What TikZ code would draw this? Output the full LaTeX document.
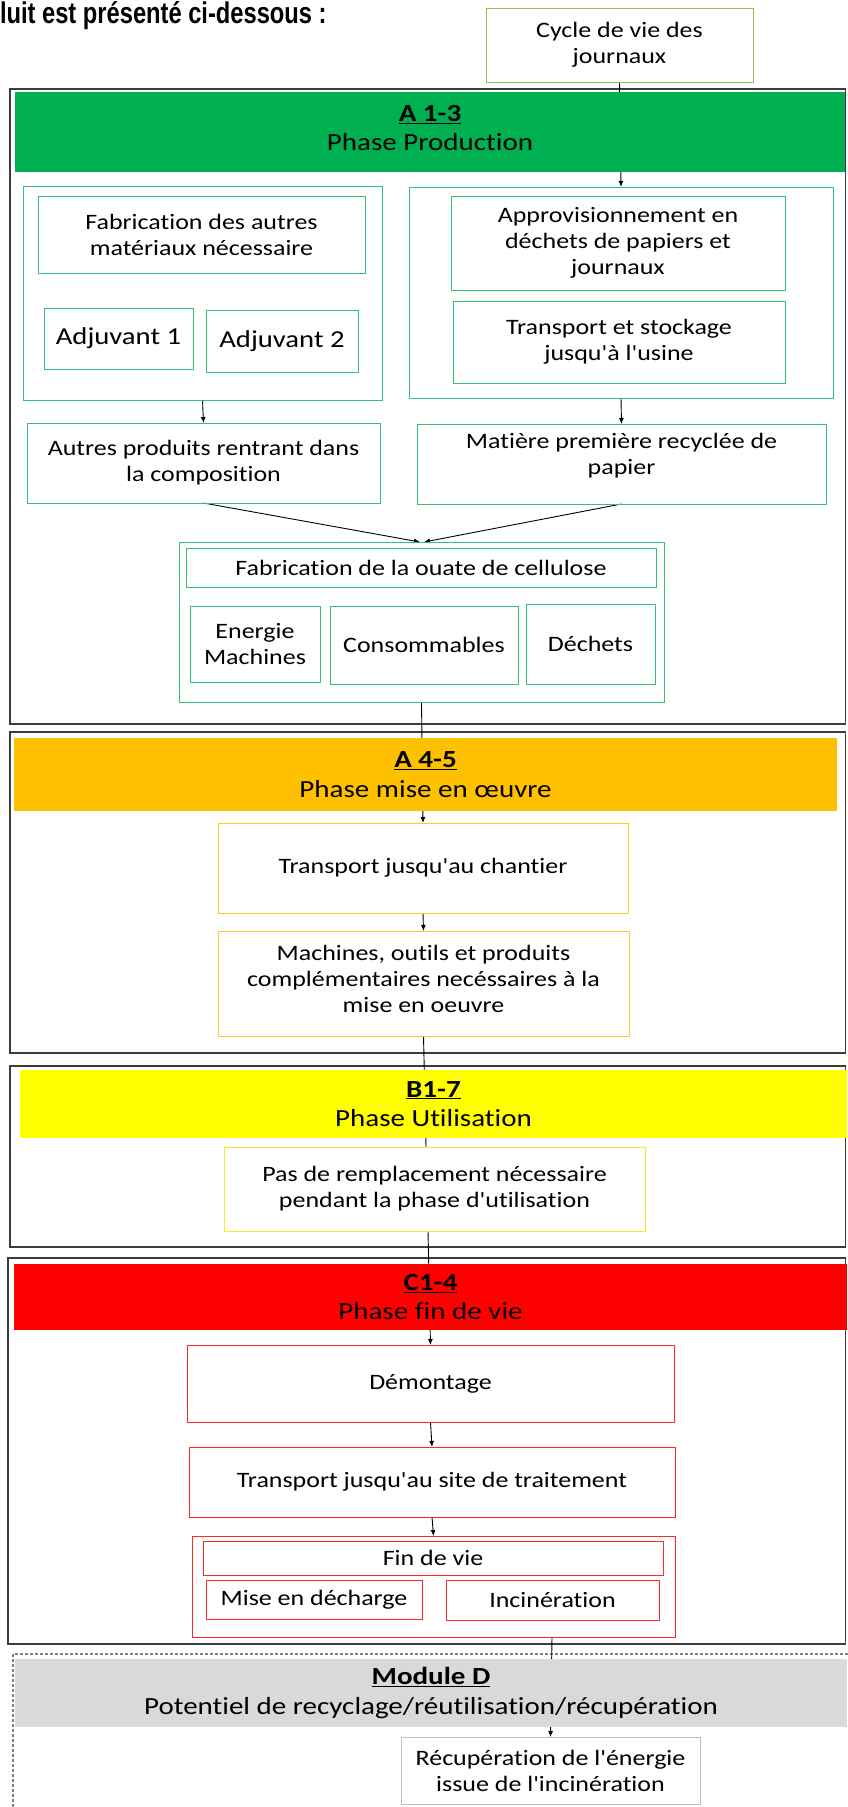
\documentclass[tikz,border=0pt]{standalone}
\usepackage{fontspec}
\setmainfont{Carlito}[FakeStretch=1.18, Ligatures={TeXOff,CommonOff}]
\newfontfamily\titlefont{Liberation Sans}[FakeStretch=0.79]
\usetikzlibrary{arrows.meta}
\pgfdeclarelayer{bg}
\pgfsetlayers{bg,main}
\definecolor{cgreen}{RGB}{0,176,80}
\definecolor{colive}{RGB}{155,187,89}
\definecolor{corange}{RGB}{255,192,0}
\definecolor{cyellow}{RGB}{255,255,0}
\definecolor{cyellowln}{RGB}{245,235,40}
\definecolor{cred}{RGB}{255,0,0}
\definecolor{cgray}{RGB}{217,217,217}
\definecolor{cgrayln}{RGB}{190,190,190}
\definecolor{couter}{RGB}{60,60,60}
\begin{document}
\begin{tikzpicture}[x=1pt,y=-1pt,
  every node/.style={inner sep=0pt, outer sep=0pt, align=center, anchor=north west,
    font=\fontsize{22}{26}\selectfont},
  bx/.style={draw, line width=1pt},
  gb/.style={bx, draw=cgreen!80},
  ob/.style={bx, draw=corange!85},
  yb/.style={bx, draw=cyellowln},
  rb/.style={bx, draw=cred!85},
  hdr/.style={font=\fontsize{24.6}{29.5}\selectfont},
  big/.style={font=\fontsize{24.3}{28}\selectfont},
  outerbox/.style={draw=couter, line width=1.3pt},
  conn/.style={line width=0.9pt, draw=black},
  arr/.style={conn, -{Latex[length=6pt,width=5pt]}},
]
\useasboundingbox (0,0) rectangle (847,1807);

% title
\node[anchor=base west, font=\titlefont\bfseries\fontsize{30}{30}\selectfont] (title) at (0,23.5) {luit est présenté ci-dessous :};

\node[bx, draw=colive, minimum width=267, minimum height=74] (cycle) at (486,8) {Cycle de vie des\\journaux};

% A 1-3
\node[hdr, fill=cgreen, minimum width=830, minimum height=80] (hA) at (15,92) {};
\node[hdr, anchor=center] (hAT) at ([yshift=4pt]hA.center) {\underline{\textbf{A 1-3}}\\Phase Production};
\node[gb, minimum width=359, minimum height=214] (lgrp) at (23,186) {};
\node[gb, minimum width=327, minimum height=77] (fabaut) at (38,196) {Fabrication des autres\\matériaux nécessaire};
\node[gb, big, minimum width=149, minimum height=61] (adj1) at (44,308) {Adjuvant 1};
\node[gb, big, minimum width=152, minimum height=62] (adj2) at (206,310) {Adjuvant 2};
\node[gb, minimum width=424, minimum height=211] (rgrp) at (409,187) {};
\node[gb, minimum width=334, minimum height=94] (appro) at (451,196) {Approvisionnement en\\déchets de papiers et\\journaux};
\node[gb, minimum width=332, minimum height=82] (transto) at (453,301) {Transport et stockage\\jusqu'à l'usine};
\node[gb, minimum width=353, minimum height=80] (autres) at (27,423) {Autres produits rentrant dans\\la composition};
\node[gb, minimum width=409, minimum height=80] (matiere) at (417,424) {};
\node[anchor=center] (matiereT) at ([yshift=8pt]matiere.center) {Matière première recyclée de\\papier};
\node[gb, minimum width=485, minimum height=160] (fabgrp) at (179,542) {};
\node[gb, minimum width=470, minimum height=39] (fabouate) at (186,548) {Fabrication de la ouate de cellulose};
\node[gb, minimum width=130, minimum height=76] (energie) at (190,606) {Energie\\Machines};
\node[gb, minimum width=188, minimum height=78] (conso) at (330,606) {Consommables};
\node[gb, minimum width=129, minimum height=80] (dechets) at (526,604) {Déchets};

% A 4-5
\node[hdr, fill=corange, minimum width=823, minimum height=73] (hB) at (14,738) {\underline{\textbf{A 4-5}}\\Phase mise en œuvre};
\node[ob, minimum width=410, minimum height=90] (transch) at (218,823) {Transport jusqu'au chantier};
\node[ob, minimum width=411, minimum height=105] (machines) at (218,931) {};
\node[anchor=center] (machinesT) at ([yshift=5pt]machines.center) {Machines, outils et produits\\complémentaires necéssaires à la\\mise en oeuvre};

% B1-7
\node[hdr, fill=cyellow, minimum width=827, minimum height=68] (hC) at (20,1070) {\underline{\textbf{B1-7}}\\Phase Utilisation};
\node[yb, minimum width=421, minimum height=84] (pas) at (224,1147) {Pas de remplacement nécessaire\\pendant la phase d'utilisation};

% C1-4
\node[hdr, fill=cred, minimum width=833, minimum height=66] (hD) at (14,1264) {\underline{\textbf{C1-4}}\\Phase fin de vie};
\node[rb, minimum width=487, minimum height=77] (demont) at (187,1345) {Démontage};
\node[rb, minimum width=486, minimum height=70] (transsite) at (189,1447) {Transport jusqu'au site de traitement};
\node[rb, minimum width=483, minimum height=101] (fingrp) at (192,1536) {};
\node[rb, minimum width=460, minimum height=34] (finvie) at (203,1541) {Fin de vie};
\node[rb, minimum width=216, minimum height=39] (decharge) at (206,1580) {Mise en décharge};
\node[rb, minimum width=213, minimum height=40] (incin) at (446,1580) {Incinération};

% Module D
\node[hdr, fill=cgray, minimum width=832, minimum height=68] (hE) at (15,1659) {\underline{\textbf{Module D}}\\Potentiel de recyclage/réutilisation/récupération};
\node[bx, draw=cgrayln, minimum width=299, minimum height=67] (recup) at (401,1737) {Récupération de l'énergie\\issue de l'incinération};

\begin{pgfonlayer}{bg}
  \draw[outerbox] (10,89) rectangle (845.5,724);
  \draw[outerbox] (10,732) rectangle (845.5,1053);
  \draw[outerbox] (10,1066) rectangle (845.5,1247);
  \draw[outerbox] (8,1258) rectangle (845.5,1644);
  \draw[draw=gray, line width=1.2pt, dash pattern=on 3pt off 2pt] (13,1812) -- (13,1654) -- (852,1654);
  \draw[arr] (cycle.south) -- (rgrp.north);
  \draw[arr] (lgrp.south) -- (autres.north);
  \draw[arr] (rgrp.south) -- (matiere.north);
  \draw[arr] (autres.south) -- ([xshift=-1.5pt]fabgrp.north);
  \draw[arr] (matiere.south) -- ([xshift=2.5pt]fabgrp.north);
  \draw[arr] (fabgrp.south) -- (transch.north);
  \draw[arr] (transch.south) -- (machines.north);
  \draw[conn] (machines.south) -- ([xshift=-8.5pt]pas.north);
  \draw[arr] ([xshift=-6.5pt]pas.south) -- (demont.north);
  \draw[arr] (demont.south) -- (transsite.north);
  \draw[arr] (transsite.south) -- (fingrp.north);
  \draw[arr] ([xshift=118.5pt]fingrp.south) -- (recup.north);
\end{pgfonlayer}
\end{tikzpicture}
\end{document}
